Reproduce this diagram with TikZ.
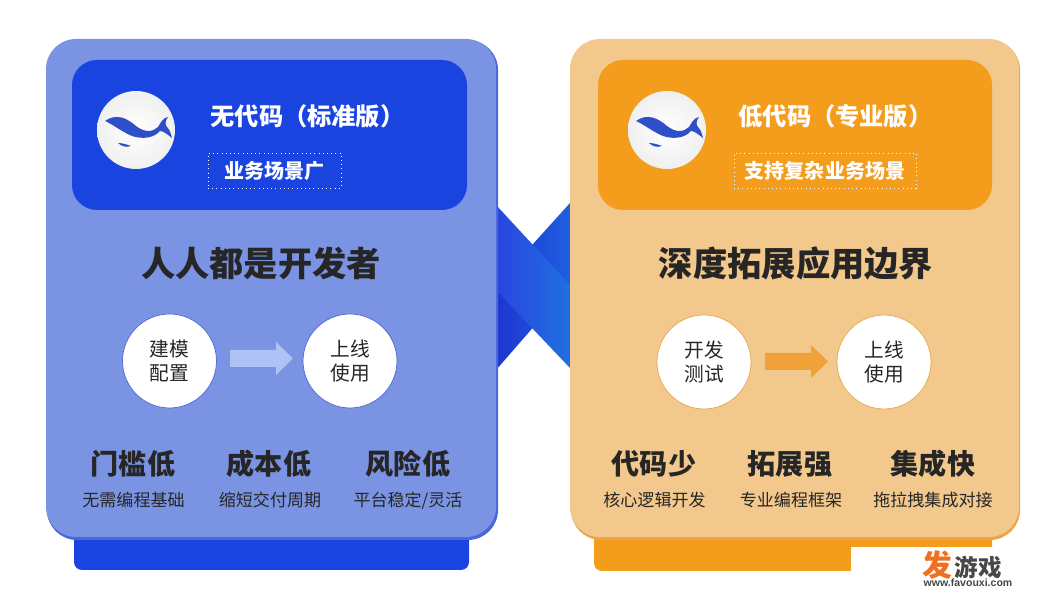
\documentclass[tikz,border=0pt]{standalone}
\usepackage{fontspec}
\setmainfont{Noto Sans CJK SC}
\newfontfamily\urlfont{Liberation Sans}
\definecolor{bluepanel}{HTML}{7B93E3}
\definecolor{blueedge}{HTML}{4A66D8}
\definecolor{bluecard}{HTML}{1A44E0}
\definecolor{bluearrow}{HTML}{AFC2F5}
\definecolor{orpanel}{HTML}{F2C88C}
\definecolor{oredge}{HTML}{EBA649}
\definecolor{orcard}{HTML}{F49C1C}
\definecolor{orarrow}{HTML}{F0A238}
\definecolor{inkdark}{HTML}{262626}
\definecolor{whaleblue}{HTML}{2F4FC8}
\definecolor{crossa}{HTML}{2A44E0}
\definecolor{crossb}{HTML}{1A50F0}
\definecolor{crossc}{HTML}{2070E0}
\definecolor{crossd}{HTML}{1E36D0}
\definecolor{crosse}{HTML}{1E5FE0}
\tikzset{
	headtxt/.style={text=white, font=\fontsize{13.8}{17}\selectfont\bfseries},
	tagbox/.style={draw=white, dotted, text=white, font=\fontsize{11.4}{14}\selectfont\bfseries, minimum height=.7cm, inner sep=0pt},
	bigtxt/.style={text=inkdark, font=\fontsize{19.5}{23}\selectfont\bfseries},
	lowtxt/.style={text=inkdark, font=\fontsize{16}{19}\selectfont\bfseries},
	subtxt/.style={anchor=base, text=inkdark, font=\fontsize{9.7}{12}\selectfont},
	stepnode/.style={circle, fill=white, minimum size=1.88cm, inner sep=0pt, align=center, text=inkdark, font=\fontsize{11.2}{13.6}\selectfont},
	logonode/.style={circle, inner color=white, outer color=black!6!white, minimum size=1.56cm, inner sep=0pt},
	whale/.pic={
		\fill[whaleblue] (-31,-9) .. controls (-20,-17) and (-9,-12) .. (0,-4) .. controls (9,3) and (17,2) .. (22,-3) .. controls (25,-8) and (27,-12) .. (32,-13) .. controls (29,-9) and (29,-5) .. (31,-3) .. controls (34,0) and (35,4) .. (36,8) .. controls (31,4) and (27,1) .. (24,1) .. controls (17,9) and (5,9) .. (-4,6) .. controls (-14,2) and (-22,-5) .. (-31,-9) -- cycle;
		\fill[whaleblue] (-18,13) .. controls (-13,13) and (-8,15) .. (-5,16) .. controls (-10,18) and (-15,16) .. (-18,13) -- cycle;
	}
}
\begin{document}
\begin{tikzpicture}[x=.02cm, y=-.02cm]
	\useasboundingbox (0,0) rectangle (1062,597);
	% the crossing bands
	\shade[left color=crossd, right color=crosse] (496,285) -- (570,203) -- (570,285) -- (496,370) -- cycle;
	\shade[left color=crossa, middle color=crossb, right color=crossc] (496,205) -- (570,285) -- (570,368) -- (496,290) -- cycle;
	% left panel
	\fill[bluecard, rounded corners=.16cm] (74,500) rectangle (469,570);
	\fill[blueedge, rounded corners=.6cm] (47,40) rectangle (498,540);
	\fill[bluepanel, rounded corners=.6cm] (46,39) rectangle (496,537);
	\fill[bluecard, rounded corners=.5cm] (72,60) rectangle (467,210);
	\node[logonode] (logoa) at (136,130) {};
	\pic at (logoa.center) {whale};
	\node[headtxt] (heada) at (307.5,116) {无代码（标准版）};
	\node[tagbox, minimum width=2.66cm] (taga) at (274.5,170.5) {业务场景广};
	\node[bigtxt] (biga) at (261,263) {人人都是开发者};
	\node[stepnode, draw=blueedge] (buildnode) at (169.5,361) {建模\\配置};
	\node[stepnode, draw=blueedge] (onlinea) at (350,361) {上线\\使用};
	\fill[bluearrow] (230,350) -- (276,350) -- (276,342) -- (293,358.5) -- (276,375) -- (276,367) -- (230,367) -- cycle;
	\node[lowtxt] (lowa) at (133,464) {门槛低};
	\node[lowtxt] (lowb) at (269,464) {成本低};
	\node[lowtxt] (lowc) at (408,464) {风险低};
	\node[subtxt] (suba) at (133.5,507) {无需编程基础};
	\node[subtxt] (subb) at (270,507) {缩短交付周期};
	\node[subtxt] (subc) at (408,507) {平台稳定/灵活};
	% right panel
	\fill[orcard, rounded corners=.16cm] (594,500) rectangle (992,571);
	\fill[oredge, rounded corners=.6cm] (571,40) rectangle (1020,540);
	\fill[orpanel, rounded corners=.6cm] (570,39) rectangle (1019,537);
	\fill[orcard, rounded corners=.5cm] (598,60) rectangle (992,210);
	\node[logonode] (logob) at (667,130) {};
	\pic at (logob.center) {whale};
	\node[headtxt] (headb) at (835.5,116) {低代码（专业版）};
	\node[tagbox, minimum width=3.64cm] (tagb) at (825,170.5) {支持复杂业务场景};
	\node[bigtxt] (bigb) at (796,263) {深度拓展应用边界};
	\node[stepnode, draw=oredge] (devnode) at (704,362) {开发\\测试};
	\node[stepnode, draw=oredge] (onlineb) at (884,362) {上线\\使用};
	\fill[orarrow] (765,353) -- (811,353) -- (811,345) -- (828,361.5) -- (811,378) -- (811,370) -- (765,370) -- cycle;
	\node[lowtxt] (lowd) at (654,464) {代码少};
	\node[lowtxt] (lowe) at (790,464) {拓展强};
	\node[lowtxt] (lowf) at (933,464) {集成快};
	\node[subtxt] (subd) at (654.5,507) {核心逻辑开发};
	\node[subtxt] (sube) at (791,507) {专业编程框架};
	\node[subtxt] (subf) at (933,507) {拖拉拽集成对接};
	% corner mark
	\fill[white] (851,547) rectangle (1062,597);
	\node[text={rgb,255:red,240;green,112;blue,32}, font=\fontsize{17}{20}\selectfont\bfseries] (markfa) at (937,565) {发};
	\node[text=inkdark!85, font=\fontsize{13.4}{16}\selectfont\bfseries] (markyx) at (978,567) {游戏};
	\node[text=inkdark!85, font=\fontsize{6}{7}\selectfont\bfseries\urlfont] (markurl) at (968,583) {www.favouxi.com};
\end{tikzpicture}
\end{document}
